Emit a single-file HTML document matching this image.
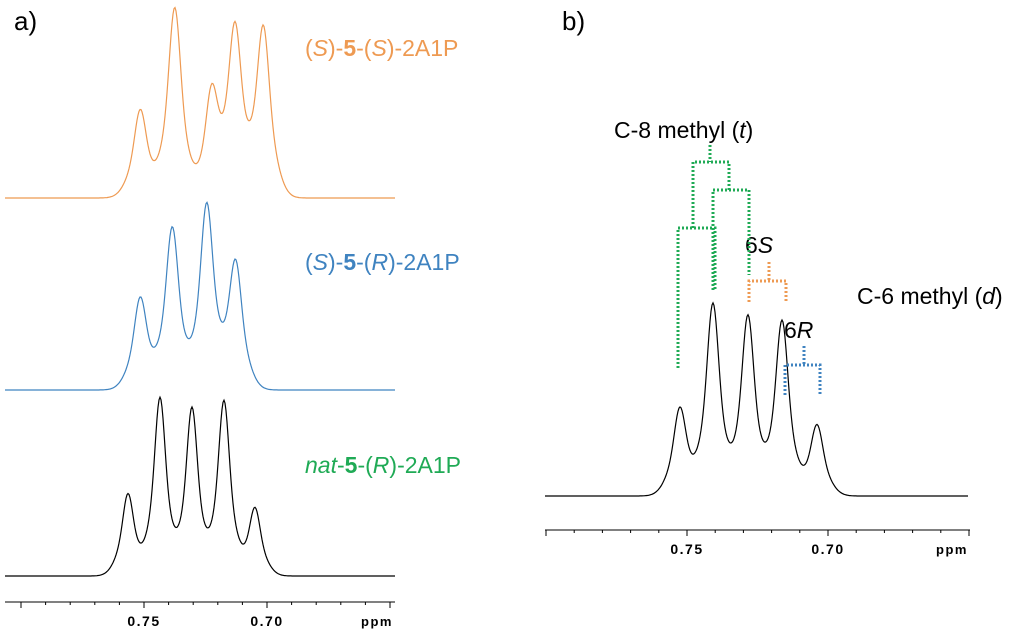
<!DOCTYPE html>
<html><head><meta charset="utf-8"><style>
body{margin:0;background:#fff;}
svg{display:block;font-family:"Liberation Sans",sans-serif;}
</style></head><body>
<svg id="c" width="1024" height="636" viewBox="0 0 1024 636">
<text x="14" y="30" font-size="26">a)</text>
<text x="562" y="30" font-size="26">b)</text>
<text x="305" y="56" font-size="23" fill="#ee9a52">(<tspan font-style="italic">S</tspan>)-<tspan font-weight="bold">5</tspan>-(<tspan font-style="italic">S</tspan>)-2A1P</text>
<text x="305" y="270" font-size="23" fill="#3f83c0">(<tspan font-style="italic">S</tspan>)-<tspan font-weight="bold">5</tspan>-(<tspan font-style="italic">R</tspan>)-2A1P</text>
<text x="305" y="473" font-size="23" fill="#1faa55"><tspan font-style="italic">nat</tspan>-<tspan font-weight="bold">5</tspan>-(<tspan font-style="italic">R</tspan>)-2A1P</text>
<text x="614" y="138" font-size="23">C-8 methyl (<tspan font-style="italic">t</tspan>)</text>
<text x="745" y="253" font-size="23">6<tspan font-style="italic">S</tspan></text>
<text x="784" y="338" font-size="23">6<tspan font-style="italic">R</tspan></text>
<text x="857" y="304" font-size="23">C-6 methyl (<tspan font-style="italic">d</tspan>)</text>
<g id="g"></g>
</svg>
<script>
// Panel a peaks (ppm) and heights (px above baseline)
const ppmA = [0.7565, 0.7435, 0.7305, 0.7175, 0.7049];
const orangePpm = [0.7515, 0.7375, 0.7225, 0.7130, 0.7015];
const orangeH = [88, 190, 105, 168, 170];
const bluePpm = [0.7515, 0.7385, 0.7245, 0.7128];
const blueH = [92, 162, 185, 128];
const blackH = [82, 178, 168, 175, 68];
// Panel b
const ppmB = [0.7525, 0.7408, 0.7284, 0.7163, 0.7039];
const blackBH = [88, 192, 180, 175, 71];
const ticksMajor = [0.75, 0.70];
const tickLabels = ["0.75", "0.70"];

const NS="http://www.w3.org/2000/svg";
const g=document.getElementById('g');
function el(t,a){const e=document.createElementNS(NS,t);for(const k in a)e.setAttribute(k,a[k]);g.appendChild(e);return e;}
const xA=p=>144+(0.75-p)*2460;
const xB=p=>687+(0.75-p)*2820;
function spec(ps,hs,xf,base,x0,x1,col,name,s1,s2){
  let d="";
  for(let x=x0;x<=x1;x+=1){
    let y=0;
    ps.forEach((p,i)=>{const dx=x-xf(p);y+=hs[i]*(0.5*Math.exp(-dx*dx/(2*s1*s1))+0.5*Math.exp(-dx*dx/(2*s2*s2)));});
    d+=(x===x0?"M":"L")+x+","+(base-y).toFixed(1);
  }
  const e=el('path',{d:d,fill:"none",stroke:col,"stroke-width":1.2});
  
  
}
spec(orangePpm,orangeH,xA,198,5,395,"#ee9a52","orange-spectrum",5,11);
spec(bluePpm,blueH,xA,390,5,395,"#3f83c0","blue-spectrum",5,11);
spec(ppmA,blackH,xA,576,5,395,"#000","black-spectrum-a",4.5,10);
spec(ppmB,blackBH,xB,496,545,968,"#000","black-spectrum-b",5,11);

function axis(xf,y,x0,x1,lo,hi,name){
  const a=el('line',{x1:x0,x2:x1,y1:y,y2:y,stroke:"#000","stroke-width":1});
  
  
  for(let i=Math.round(lo*100);i>=Math.round(hi*100);i--){
    const p=i/100,major=i%5===0;
    const t=el('line',{x1:xf(p),x2:xf(p),y1:y,y2:y+(major?6:3),stroke:"#000"});
    
    
  }
  ticksMajor.forEach((p,i)=>{
    const t=el('text',{x:xf(p),y:y+24,"font-size":14,"font-weight":"bold","text-anchor":"middle","letter-spacing":"1.5"});
    t.textContent=tickLabels[i];
    
    
  });
  const u=el('text',{x:x1-2,y:y+24,"font-size":13,"font-weight":"bold","text-anchor":"end","letter-spacing":"1.5"});
  u.textContent="ppm";
  
  
}
axis(xA,602,5,395,0.80,0.65,"x-axis-a");
axis(xB,530,545,970,0.80,0.65,"x-axis-b");

function br(d,col,name){
  const e=el('path',{d:d,fill:"none",stroke:col,"stroke-width":3,"stroke-dasharray":"2 2"});
  
  
}
const G="#1faa55";
br("M710,145V162M693,228V162H729V190",G,"c8-bracket-top");
br("M713,290V190H749V275",G,"c8-bracket-mid");
br("M678,368V228H715V290",G,"c8-bracket-left");
br("M769,262V281M749,302V281H786V302","#ee9a52","6s-bracket");
br("M804,346V365M785,395V365H820V395","#3f83c0","6r-bracket");
</script>
</body></html>
